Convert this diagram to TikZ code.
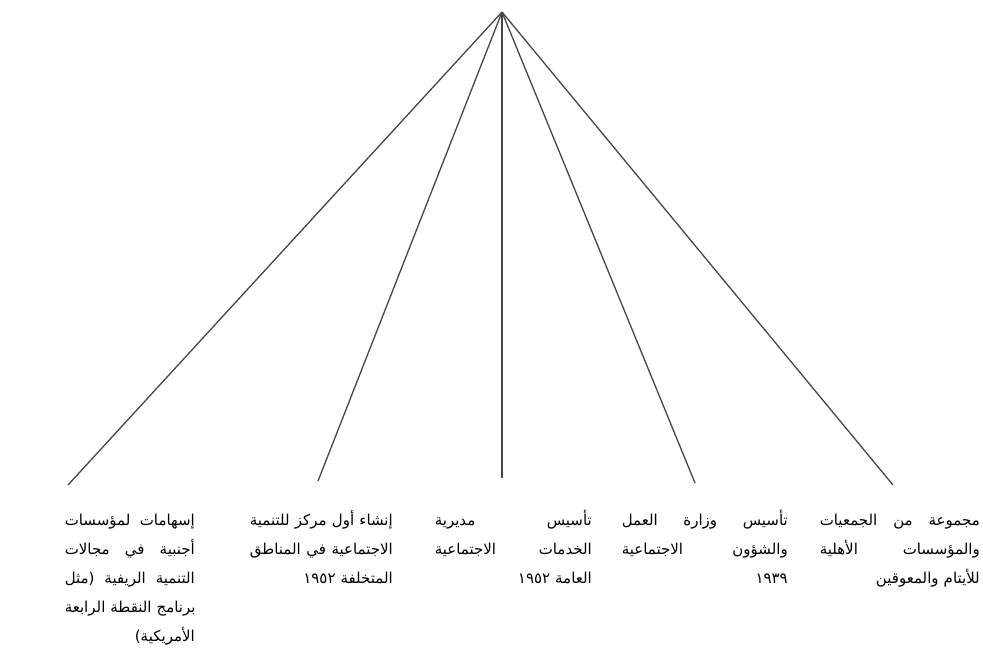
\documentclass[tikz,border=0pt]{standalone}
\usepackage{fontspec}
\newfontfamily\arabicfont[Script=Arabic]{DejaVu Sans}
\TeXXeTstate=1
\newcommand{\rl}[1]{\strut\beginR #1\endR}
\newcommand{\jl}[1]{\noindent\hbox to\hsize{\strut\beginR #1\endR}}
\tikzset{
  branch/.style={gray!55!black,line width=1.3pt},
  leaf/.style={anchor=north east,align=right,inner sep=0pt,text width=#1,
    font=\arabicfont\fontsize{15}{29}\selectfont}
}
\begin{document}
\begin{tikzpicture}[x=1pt,y=-1pt]
  \useasboundingbox (0,0) rectangle (983,651);
  \coordinate (apex) at (502,12);
  \coordinate (e1) at (893,485);
  \coordinate (e2) at (695,483);
  \coordinate (e3) at (502,478);
  \coordinate (e4) at (318,481);
  \coordinate (e5) at (68,485);
  \foreach \name in {e1,e2,e3,e4,e5}
    \draw[branch] (apex) -- (\name);
  % text under each branch
  \node[leaf=160pt] (t1) at (980,505)
    {\jl{مجموعة \hfill من \hfill الجمعيات}\\\jl{والمؤسسات \hfill الأهلية}\\\rl{للأيتام والمعوقين}};
  \node[leaf=166pt] (t2) at (788,505)
    {\jl{تأسيس \hfill وزارة \hfill العمل}\\\jl{والشؤون \hfill الاجتماعية}\\\rl{١٩٣٩}};
  \node[leaf=157pt] (t3) at (592,505)
    {\jl{تأسيس \hfill مديرية}\\\jl{الخدمات \hfill الاجتماعية}\\\rl{العامة ١٩٥٢}};
  \node[leaf=143pt] (t4) at (393,505)
    {\jl{إنشاء \hfill أول \hfill مركز \hfill للتنمية}\\\jl{الاجتماعية \hfill في \hfill المناطق}\\\rl{المتخلفة ١٩٥٢}};
  \node[leaf=130pt] (t5) at (195,505)
    {\jl{إسهامات \hfill لمؤسسات}\\\jl{أجنبية \hfill في \hfill مجالات}\\\jl{التنمية \hfill الريفية \hfill (مثل}\\\jl{برنامج \hfill النقطة \hfill الرابعة}\\\rl{الأمريكية)}};
\end{tikzpicture}
\end{document}
